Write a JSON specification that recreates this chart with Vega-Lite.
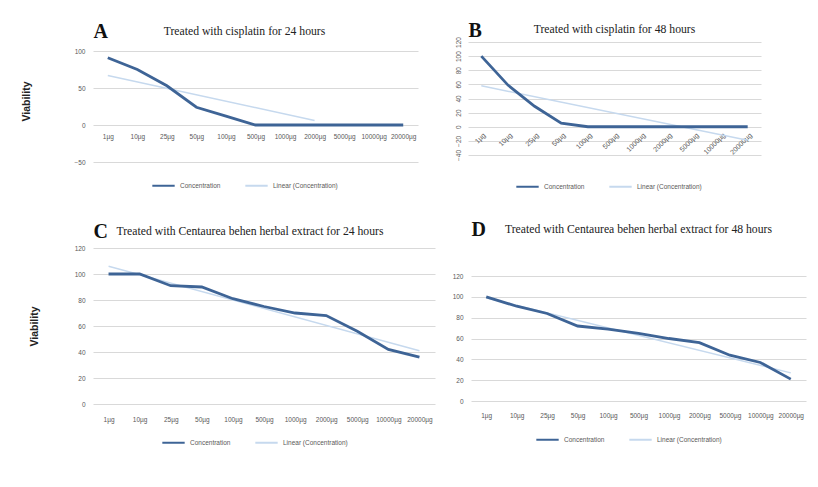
{
  "$schema": "https://vega.github.io/schema/vega-lite/v6.json",
  "background": "white",
  "padding": {"top": 20, "left": 21, "right": 5, "bottom": 5},
  "datasets": {
    "d": [
      {"panel": "A", "conc": "1µg", "series": "Concentration", "v": 91},
      {"panel": "A", "conc": "10µg", "series": "Concentration", "v": 75},
      {"panel": "A", "conc": "25µg", "series": "Concentration", "v": 53},
      {"panel": "A", "conc": "50µg", "series": "Concentration", "v": 24},
      {"panel": "A", "conc": "100µg", "series": "Concentration", "v": 12},
      {"panel": "A", "conc": "500µg", "series": "Concentration", "v": 0},
      {"panel": "A", "conc": "1000µg", "series": "Concentration", "v": 0},
      {"panel": "A", "conc": "2000µg", "series": "Concentration", "v": 0},
      {"panel": "A", "conc": "5000µg", "series": "Concentration", "v": 0},
      {"panel": "A", "conc": "10000µg", "series": "Concentration", "v": 0},
      {"panel": "A", "conc": "20000µg", "series": "Concentration", "v": 0},
      {"panel": "A", "conc": "1µg", "series": "Linear (Concentration)", "v": 67},
      {"panel": "A", "conc": "2000µg", "series": "Linear (Concentration)", "v": 6},
      {"panel": "B", "conc": "1µg", "series": "Concentration", "v": 100},
      {"panel": "B", "conc": "10µg", "series": "Concentration", "v": 59},
      {"panel": "B", "conc": "25µg", "series": "Concentration", "v": 29},
      {"panel": "B", "conc": "50µg", "series": "Concentration", "v": 5},
      {"panel": "B", "conc": "100µg", "series": "Concentration", "v": 0},
      {"panel": "B", "conc": "500µg", "series": "Concentration", "v": 0},
      {"panel": "B", "conc": "1000µg", "series": "Concentration", "v": 0},
      {"panel": "B", "conc": "2000µg", "series": "Concentration", "v": 0},
      {"panel": "B", "conc": "5000µg", "series": "Concentration", "v": 0},
      {"panel": "B", "conc": "10000µg", "series": "Concentration", "v": 0},
      {"panel": "B", "conc": "20000µg", "series": "Concentration", "v": 0},
      {"panel": "B", "conc": "1µg", "series": "Linear (Concentration)", "v": 58},
      {"panel": "B", "conc": "20000µg", "series": "Linear (Concentration)", "v": -19},
      {"panel": "C", "conc": "1µg", "series": "Concentration", "v": 100},
      {"panel": "C", "conc": "10µg", "series": "Concentration", "v": 100},
      {"panel": "C", "conc": "25µg", "series": "Concentration", "v": 91},
      {"panel": "C", "conc": "50µg", "series": "Concentration", "v": 90},
      {"panel": "C", "conc": "100µg", "series": "Concentration", "v": 81},
      {"panel": "C", "conc": "500µg", "series": "Concentration", "v": 75},
      {"panel": "C", "conc": "1000µg", "series": "Concentration", "v": 70},
      {"panel": "C", "conc": "2000µg", "series": "Concentration", "v": 68},
      {"panel": "C", "conc": "5000µg", "series": "Concentration", "v": 56},
      {"panel": "C", "conc": "10000µg", "series": "Concentration", "v": 42},
      {"panel": "C", "conc": "20000µg", "series": "Concentration", "v": 36},
      {"panel": "C", "conc": "1µg", "series": "Linear (Concentration)", "v": 106},
      {"panel": "C", "conc": "20000µg", "series": "Linear (Concentration)", "v": 41},
      {"panel": "D", "conc": "1µg", "series": "Concentration", "v": 100},
      {"panel": "D", "conc": "10µg", "series": "Concentration", "v": 91},
      {"panel": "D", "conc": "25µg", "series": "Concentration", "v": 84},
      {"panel": "D", "conc": "50µg", "series": "Concentration", "v": 72},
      {"panel": "D", "conc": "100µg", "series": "Concentration", "v": 69},
      {"panel": "D", "conc": "500µg", "series": "Concentration", "v": 65},
      {"panel": "D", "conc": "1000µg", "series": "Concentration", "v": 60},
      {"panel": "D", "conc": "2000µg", "series": "Concentration", "v": 56},
      {"panel": "D", "conc": "5000µg", "series": "Concentration", "v": 44},
      {"panel": "D", "conc": "10000µg", "series": "Concentration", "v": 37},
      {"panel": "D", "conc": "20000µg", "series": "Concentration", "v": 21},
      {"panel": "D", "conc": "1µg", "series": "Linear (Concentration)", "v": 99},
      {"panel": "D", "conc": "20000µg", "series": "Linear (Concentration)", "v": 27}
    ]
  },
  "config": {
    "view": {"stroke": null},
    "font": "Liberation Sans",
    "axis": {"labelFont": "Liberation Sans", "labelColor": "#595959", "labelFontSize": 6.5, "gridColor": "#d9d9d9", "gridWidth": 1, "domain": false, "ticks": false},
    "title": {"font": "Liberation Serif", "fontSize": 11.7, "fontWeight": "normal", "color": "#222222"},
    "legend": {"direction": "horizontal", "symbolType": "stroke", "symbolSize": 500, "symbolStrokeWidth": 2, "labelFontSize": 6.5, "labelColor": "#595959", "columnPadding": 20, "labelFont": "Liberation Sans"}
  },
  "vconcat": [
    {
      "hconcat": [
        {
          "width": 325, "height": 120,
          "data": {"name": "d"},
          "transform": [{"filter": "datum.panel === 'A'"}],
          "title": {"text": "Treated with cisplatin for 24 hours", "offset": -17, "dx": -11},
          "encoding": {
            "y": {"field": "v", "type": "quantitative", "scale": {"domain": [-50, 112.2], "nice": false}, "axis": {"values": [-50, 0, 50, 100], "title": "Viability", "titleFont": "Liberation Sans", "titleFontWeight": "bold", "titleFontSize": 10.5, "titleColor": "#222222", "titlePadding": 42, "titleY": 59, "labelPadding": 8, "grid": true}},
            "color": {"field": "series", "type": "nominal", "scale": {"domain": ["Concentration", "Linear (Concentration)"], "range": ["#3e6496", "#c6d9ee"]}, "legend": {"orient": "none", "legendX": 58, "legendY": 131, "title": null}}
          },
          "layer": [
            {"transform": [{"filter": "datum.series === 'Linear (Concentration)'"}], "mark": {"type": "line", "strokeWidth": 1.5},
             "encoding": {"x": {"field": "conc", "type": "ordinal", "scale": {"domain": ["1µg", "10µg", "25µg", "50µg", "100µg", "500µg", "1000µg", "2000µg", "5000µg", "10000µg", "20000µg"]}, "axis": {"orient": "top", "title": "A", "titleFont": "Liberation Serif", "titleFontSize": 20, "titleFontWeight": "bold", "titleColor": "#111111", "titleAnchor": "start", "titleAlign": "left", "titlePadding": 1, "labels": false, "grid": false}}}},
            {"transform": [{"filter": "datum.series === 'Concentration'"}], "mark": {"type": "line", "strokeWidth": 2.8},
             "encoding": {"x": {"field": "conc", "type": "ordinal", "scale": {"domain": ["1µg", "10µg", "25µg", "50µg", "100µg", "500µg", "1000µg", "2000µg", "5000µg", "10000µg", "20000µg"]}, "axis": {"orient": "bottom", "title": null, "offset": -37, "labelAngle": 0, "labelPadding": 8, "grid": false, "labelOverlap": false}}}}
          ],
          "resolve": {"axis": {"x": "independent"}}
        },
        {
          "width": 293, "height": 113,
          "data": {"name": "d"},
          "transform": [{"filter": "datum.panel === 'B'"}],
          "title": {"text": "Treated with cisplatin for 48 hours", "offset": -16},
          "encoding": {
            "y": {"field": "v", "type": "quantitative", "scale": {"domain": [-40, 120], "nice": false}, "axis": {"values": [-40, -20, 0, 20, 40, 60, 80, 100, 120], "title": null, "labelAngle": -90, "labelPadding": 7, "grid": true}},
            "color": {"field": "series", "type": "nominal", "scale": {"domain": ["Concentration", "Linear (Concentration)"], "range": ["#3e6496", "#c6d9ee"]}, "legend": {"orient": "none", "legendX": 47, "legendY": 132, "title": null}}
          },
          "layer": [
            {"transform": [{"filter": "datum.series === 'Linear (Concentration)'"}], "mark": {"type": "line", "strokeWidth": 1.5},
             "encoding": {"x": {"field": "conc", "type": "ordinal", "scale": {"domain": ["1µg", "10µg", "25µg", "50µg", "100µg", "500µg", "1000µg", "2000µg", "5000µg", "10000µg", "20000µg"]}, "axis": {"orient": "top", "title": "B", "titleFont": "Liberation Serif", "titleFontSize": 20, "titleFontWeight": "bold", "titleColor": "#111111", "titleAnchor": "start", "titleAlign": "left", "titlePadding": 2, "labels": false, "grid": false}}}},
            {"transform": [{"filter": "datum.series === 'Concentration'"}], "mark": {"type": "line", "strokeWidth": 2.8},
             "encoding": {"x": {"field": "conc", "type": "ordinal", "scale": {"domain": ["1µg", "10µg", "25µg", "50µg", "100µg", "500µg", "1000µg", "2000µg", "5000µg", "10000µg", "20000µg"]}, "axis": {"orient": "bottom", "title": null, "offset": -29, "labelAngle": -45, "labelPadding": 5, "labelFontSize": 7, "grid": false, "labelOverlap": false}}}}
          ],
          "resolve": {"axis": {"x": "independent"}}
        }
      ],
      "spacing": 37,
      "resolve": {"scale": {"y": "independent", "color": "independent"}, "legend": {"color": "independent"}}
    },
    {
      "hconcat": [
        {
          "width": 342, "height": 156,
          "data": {"name": "d"},
          "transform": [{"filter": "datum.panel === 'C'"}],
          "title": {"text": "Treated with Centaurea behen herbal extract for 24 hours", "offset": -17, "dx": -14},
          "encoding": {
            "y": {"field": "v", "type": "quantitative", "scale": {"domain": [0, 120], "nice": false}, "axis": {"values": [0, 20, 40, 60, 80, 100, 120], "title": "Viability", "titleFont": "Liberation Sans", "titleFontWeight": "bold", "titleFontSize": 10.5, "titleColor": "#222222", "titlePadding": 35, "labelPadding": 8, "grid": true}},
            "color": {"field": "series", "type": "nominal", "scale": {"domain": ["Concentration", "Linear (Concentration)"], "range": ["#3e6496", "#c6d9ee"]}, "legend": {"orient": "none", "legendX": 68, "legendY": 182, "title": null}}
          },
          "layer": [
            {"transform": [{"filter": "datum.series === 'Linear (Concentration)'"}], "mark": {"type": "line", "strokeWidth": 1.5},
             "encoding": {"x": {"field": "conc", "type": "ordinal", "scale": {"domain": ["1µg", "10µg", "25µg", "50µg", "100µg", "500µg", "1000µg", "2000µg", "5000µg", "10000µg", "20000µg"]}, "axis": {"orient": "top", "title": "C", "titleFont": "Liberation Serif", "titleFontSize": 20, "titleFontWeight": "bold", "titleColor": "#111111", "titleAnchor": "start", "titleAlign": "left", "titlePadding": 7, "labels": false, "grid": false}}}},
            {"transform": [{"filter": "datum.series === 'Concentration'"}], "mark": {"type": "line", "strokeWidth": 2.8},
             "encoding": {"x": {"field": "conc", "type": "ordinal", "scale": {"domain": ["1µg", "10µg", "25µg", "50µg", "100µg", "500µg", "1000µg", "2000µg", "5000µg", "10000µg", "20000µg"]}, "axis": {"orient": "bottom", "title": null, "labelAngle": 0, "labelPadding": 12, "grid": false, "labelOverlap": false}}}}
          ],
          "resolve": {"axis": {"x": "independent"}}
        },
        {
          "width": 335, "height": 153,
          "data": {"name": "d"},
          "transform": [{"filter": "datum.panel === 'D'"}],
          "title": {"text": "Treated with Centaurea behen herbal extract for 48 hours", "offset": -17},
          "encoding": {
            "y": {"field": "v", "type": "quantitative", "scale": {"domain": [0, 146.9], "nice": false}, "axis": {"values": [0, 20, 40, 60, 80, 100, 120], "title": null, "labelPadding": 8, "grid": true}},
            "color": {"field": "series", "type": "nominal", "scale": {"domain": ["Concentration", "Linear (Concentration)"], "range": ["#3e6496", "#c6d9ee"]}, "legend": {"orient": "none", "legendX": 64, "legendY": 179, "title": null}}
          },
          "layer": [
            {"transform": [{"filter": "datum.series === 'Linear (Concentration)'"}], "mark": {"type": "line", "strokeWidth": 1.5},
             "encoding": {"x": {"field": "conc", "type": "ordinal", "scale": {"domain": ["1µg", "10µg", "25µg", "50µg", "100µg", "500µg", "1000µg", "2000µg", "5000µg", "10000µg", "20000µg"]}, "axis": {"orient": "top", "title": "D", "titleFont": "Liberation Serif", "titleFontSize": 20, "titleFontWeight": "bold", "titleColor": "#111111", "titleAnchor": "start", "titleAlign": "left", "titlePadding": 9, "labels": false, "grid": false}}}},
            {"transform": [{"filter": "datum.series === 'Concentration'"}], "mark": {"type": "line", "strokeWidth": 2.8},
             "encoding": {"x": {"field": "conc", "type": "ordinal", "scale": {"domain": ["1µg", "10µg", "25µg", "50µg", "100µg", "500µg", "1000µg", "2000µg", "5000µg", "10000µg", "20000µg"]}, "axis": {"orient": "bottom", "title": null, "labelAngle": 0, "labelPadding": 11, "grid": false, "labelOverlap": false}}}}
          ],
          "resolve": {"axis": {"x": "independent"}}
        }
      ],
      "spacing": 17,
      "resolve": {"scale": {"y": "independent", "color": "independent"}, "legend": {"color": "independent"}}
    }
  ],
  "spacing": 28,
  "resolve": {"scale": {"y": "independent", "color": "independent"}, "legend": {"color": "independent"}}
}
